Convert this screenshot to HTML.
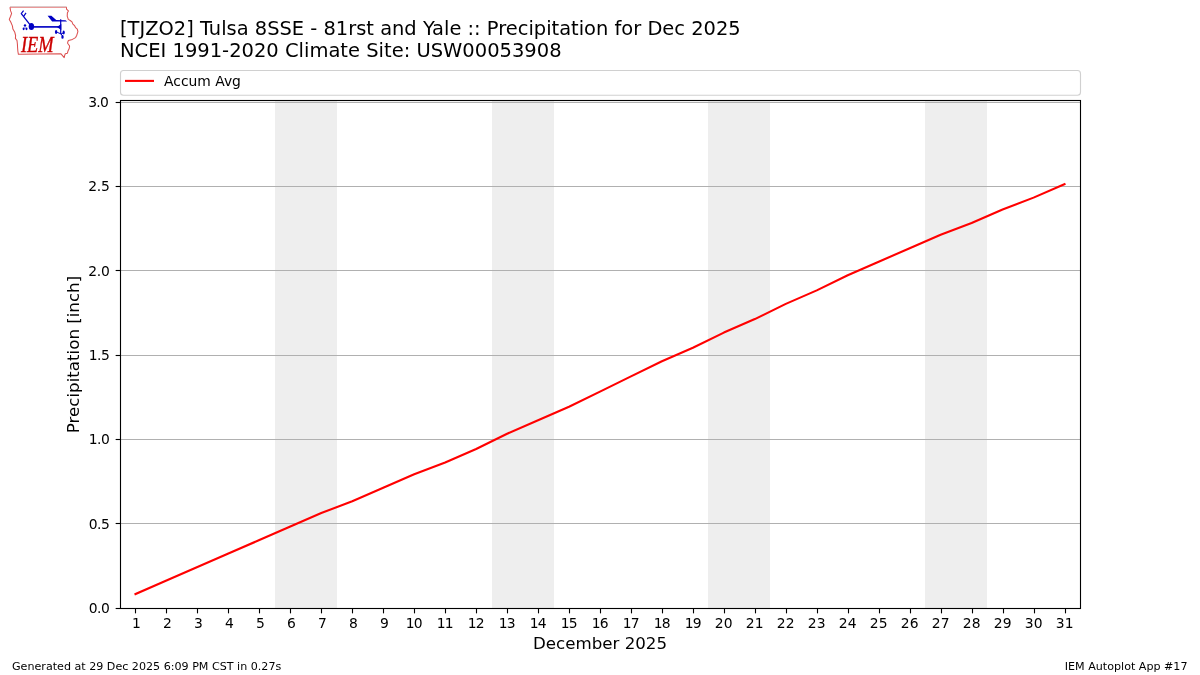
<!DOCTYPE html>
<html lang="en"><head><meta charset="utf-8"><title>IEM Autoplot App #17</title>
<style>html,body{margin:0;padding:0;background:#fff;}body{width:1200px;height:675px;overflow:hidden;}svg{display:block;will-change:transform;}text{font-family:"DejaVu Sans", "Liberation Sans", sans-serif;fill:#000;}.tk{font-size:13.89px;}.yl{letter-spacing:-0.7px;}.dd{letter-spacing:-0.9px;}.ttl{font-size:19.46px;}.lab{font-size:16.67px;}.ft{font-size:11.11px;}</style></head><body>
<svg width="1200" height="675" viewBox="0 0 1200 675">
<rect x="0" y="0" width="1200" height="675" fill="#ffffff"/>
<rect x="275.00" y="100.50" width="62.00" height="508.00" fill="#eeeeee"/>
<rect x="492.00" y="100.50" width="62.00" height="508.00" fill="#eeeeee"/>
<rect x="708.00" y="100.50" width="62.00" height="508.00" fill="#eeeeee"/>
<rect x="925.00" y="100.50" width="62.00" height="508.00" fill="#eeeeee"/>
<line x1="120.50" x2="1080.50" y1="523.50" y2="523.50" stroke="#b0b0b0" stroke-width="1.11"/>
<line x1="120.50" x2="1080.50" y1="439.50" y2="439.50" stroke="#b0b0b0" stroke-width="1.11"/>
<line x1="120.50" x2="1080.50" y1="355.50" y2="355.50" stroke="#b0b0b0" stroke-width="1.11"/>
<line x1="120.50" x2="1080.50" y1="270.50" y2="270.50" stroke="#b0b0b0" stroke-width="1.11"/>
<line x1="120.50" x2="1080.50" y1="186.50" y2="186.50" stroke="#b0b0b0" stroke-width="1.11"/>
<line x1="120.50" x2="1080.50" y1="102.50" y2="102.50" stroke="#b0b0b0" stroke-width="1.11"/>
<polyline points="135.48,594.01 166.45,580.51 197.42,567.02 228.39,553.53 259.35,540.03 290.32,526.54 321.29,513.04 352.26,501.24 383.23,487.74 414.19,474.25 445.16,462.44 476.13,448.95 507.10,433.77 538.06,420.28 569.03,406.78 600.00,391.60 630.97,376.42 661.94,361.24 692.90,347.75 723.87,332.57 754.84,319.07 785.81,303.89 816.77,290.40 847.74,275.22 878.71,261.73 909.68,248.23 940.65,234.74 971.61,222.93 1002.58,209.44 1033.55,197.63 1064.52,184.14" fill="none" stroke="#ff0000" stroke-width="2.08" stroke-linejoin="round" stroke-linecap="square"/>
<rect x="120.50" y="100.50" width="960.00" height="508.00" fill="none" stroke="#000" stroke-width="1.11"/>
<line x1="115.64" x2="120.50" y1="608.50" y2="608.50" stroke="#000" stroke-width="1.11"/>
<text class="tk" style="letter-spacing:-0.55px" x="109.25" y="612.85" text-anchor="end">0.0</text>
<line x1="115.64" x2="120.50" y1="523.50" y2="523.50" stroke="#000" stroke-width="1.11"/>
<text class="tk" style="letter-spacing:-0.55px" x="109.25" y="528.75" text-anchor="end">0.5</text>
<line x1="115.64" x2="120.50" y1="439.50" y2="439.50" stroke="#000" stroke-width="1.11"/>
<text class="tk" style="letter-spacing:-0.50px" x="109.30" y="443.85" text-anchor="end">1.0</text>
<line x1="115.64" x2="120.50" y1="355.50" y2="355.50" stroke="#000" stroke-width="1.11"/>
<text class="tk" style="letter-spacing:-0.50px" x="109.30" y="359.85" text-anchor="end">1.5</text>
<line x1="115.64" x2="120.50" y1="270.50" y2="270.50" stroke="#000" stroke-width="1.11"/>
<text class="tk" style="letter-spacing:-0.20px" x="109.70" y="275.75" text-anchor="end">2.0</text>
<line x1="115.64" x2="120.50" y1="186.50" y2="186.50" stroke="#000" stroke-width="1.11"/>
<text class="tk" style="letter-spacing:-0.20px" x="109.60" y="190.85" text-anchor="end">2.5</text>
<line x1="115.64" x2="120.50" y1="102.50" y2="102.50" stroke="#000" stroke-width="1.11"/>
<text class="tk" style="letter-spacing:-0.70px" x="108.20" y="106.85" text-anchor="end">3.0</text>
<line x1="135.50" x2="135.50" y1="608.50" y2="613.36" stroke="#000" stroke-width="1.11"/>
<text class="tk" x="136.30" y="627.60" text-anchor="middle">1</text>
<line x1="166.50" x2="166.50" y1="608.50" y2="613.36" stroke="#000" stroke-width="1.11"/>
<text class="tk" x="167.30" y="627.60" text-anchor="middle">2</text>
<line x1="197.50" x2="197.50" y1="608.50" y2="613.36" stroke="#000" stroke-width="1.11"/>
<text class="tk" x="198.30" y="627.60" text-anchor="middle">3</text>
<line x1="228.50" x2="228.50" y1="608.50" y2="613.36" stroke="#000" stroke-width="1.11"/>
<text class="tk" x="229.30" y="627.60" text-anchor="middle">4</text>
<line x1="259.50" x2="259.50" y1="608.50" y2="613.36" stroke="#000" stroke-width="1.11"/>
<text class="tk" x="260.30" y="627.60" text-anchor="middle">5</text>
<line x1="290.50" x2="290.50" y1="608.50" y2="613.36" stroke="#000" stroke-width="1.11"/>
<text class="tk" x="291.30" y="627.60" text-anchor="middle">6</text>
<line x1="321.50" x2="321.50" y1="608.50" y2="613.36" stroke="#000" stroke-width="1.11"/>
<text class="tk" x="322.30" y="627.60" text-anchor="middle">7</text>
<line x1="352.50" x2="352.50" y1="608.50" y2="613.36" stroke="#000" stroke-width="1.11"/>
<text class="tk" x="353.30" y="627.60" text-anchor="middle">8</text>
<line x1="383.50" x2="383.50" y1="608.50" y2="613.36" stroke="#000" stroke-width="1.11"/>
<text class="tk" x="384.30" y="627.60" text-anchor="middle">9</text>
<line x1="414.50" x2="414.50" y1="608.50" y2="613.36" stroke="#000" stroke-width="1.11"/>
<text class="tk dd" x="413.70" y="627.60" text-anchor="middle">10</text>
<line x1="445.50" x2="445.50" y1="608.50" y2="613.36" stroke="#000" stroke-width="1.11"/>
<text class="tk dd" x="444.70" y="627.60" text-anchor="middle">11</text>
<line x1="476.50" x2="476.50" y1="608.50" y2="613.36" stroke="#000" stroke-width="1.11"/>
<text class="tk dd" x="475.70" y="627.60" text-anchor="middle">12</text>
<line x1="507.50" x2="507.50" y1="608.50" y2="613.36" stroke="#000" stroke-width="1.11"/>
<text class="tk dd" x="506.70" y="627.60" text-anchor="middle">13</text>
<line x1="538.50" x2="538.50" y1="608.50" y2="613.36" stroke="#000" stroke-width="1.11"/>
<text class="tk dd" x="537.70" y="627.60" text-anchor="middle">14</text>
<line x1="569.50" x2="569.50" y1="608.50" y2="613.36" stroke="#000" stroke-width="1.11"/>
<text class="tk dd" x="568.70" y="627.60" text-anchor="middle">15</text>
<line x1="600.50" x2="600.50" y1="608.50" y2="613.36" stroke="#000" stroke-width="1.11"/>
<text class="tk dd" x="599.70" y="627.60" text-anchor="middle">16</text>
<line x1="631.50" x2="631.50" y1="608.50" y2="613.36" stroke="#000" stroke-width="1.11"/>
<text class="tk dd" x="630.70" y="627.60" text-anchor="middle">17</text>
<line x1="662.50" x2="662.50" y1="608.50" y2="613.36" stroke="#000" stroke-width="1.11"/>
<text class="tk dd" x="661.70" y="627.60" text-anchor="middle">18</text>
<line x1="693.50" x2="693.50" y1="608.50" y2="613.36" stroke="#000" stroke-width="1.11"/>
<text class="tk dd" x="692.70" y="627.60" text-anchor="middle">19</text>
<line x1="724.50" x2="724.50" y1="608.50" y2="613.36" stroke="#000" stroke-width="1.11"/>
<text class="tk" x="723.70" y="627.60" text-anchor="middle">20</text>
<line x1="755.50" x2="755.50" y1="608.50" y2="613.36" stroke="#000" stroke-width="1.11"/>
<text class="tk" x="754.70" y="627.60" text-anchor="middle">21</text>
<line x1="786.50" x2="786.50" y1="608.50" y2="613.36" stroke="#000" stroke-width="1.11"/>
<text class="tk" x="785.70" y="627.60" text-anchor="middle">22</text>
<line x1="817.50" x2="817.50" y1="608.50" y2="613.36" stroke="#000" stroke-width="1.11"/>
<text class="tk" x="816.70" y="627.60" text-anchor="middle">23</text>
<line x1="848.50" x2="848.50" y1="608.50" y2="613.36" stroke="#000" stroke-width="1.11"/>
<text class="tk" x="847.70" y="627.60" text-anchor="middle">24</text>
<line x1="879.50" x2="879.50" y1="608.50" y2="613.36" stroke="#000" stroke-width="1.11"/>
<text class="tk" x="878.70" y="627.60" text-anchor="middle">25</text>
<line x1="910.50" x2="910.50" y1="608.50" y2="613.36" stroke="#000" stroke-width="1.11"/>
<text class="tk" x="909.70" y="627.60" text-anchor="middle">26</text>
<line x1="941.50" x2="941.50" y1="608.50" y2="613.36" stroke="#000" stroke-width="1.11"/>
<text class="tk" x="940.70" y="627.60" text-anchor="middle">27</text>
<line x1="972.50" x2="972.50" y1="608.50" y2="613.36" stroke="#000" stroke-width="1.11"/>
<text class="tk" x="971.70" y="627.60" text-anchor="middle">28</text>
<line x1="1003.50" x2="1003.50" y1="608.50" y2="613.36" stroke="#000" stroke-width="1.11"/>
<text class="tk" x="1002.70" y="627.60" text-anchor="middle">29</text>
<line x1="1034.50" x2="1034.50" y1="608.50" y2="613.36" stroke="#000" stroke-width="1.11"/>
<text class="tk" x="1033.70" y="627.60" text-anchor="middle">30</text>
<line x1="1065.50" x2="1065.50" y1="608.50" y2="613.36" stroke="#000" stroke-width="1.11"/>
<text class="tk" x="1064.70" y="627.60" text-anchor="middle">31</text>
<text class="lab" x="600" y="649" text-anchor="middle">December 2025</text>
<text class="lab" transform="translate(79,354.5) rotate(-90)" text-anchor="middle">Precipitation [inch]</text>
<text class="ttl" x="120" y="35.3">[TJZO2] Tulsa 8SSE - 81rst and Yale :: Precipitation for Dec 2025</text>
<text class="ttl" style="font-size:19.5px" x="120" y="57.3">NCEI 1991-2020 Climate Site: USW00053908</text>
<rect x="120.5" y="70.5" width="960" height="24.7" rx="3" ry="3" fill="#ffffff" stroke="#cccccc" stroke-width="1.11" opacity="0.9"/>
<line x1="125" x2="154" y1="80.9" y2="80.9" stroke="#ff0000" stroke-width="2.08"/>
<text class="tk" x="164" y="85.8">Accum Avg</text>
<text class="ft" x="12" y="670">Generated at 29 Dec 2025 6:09 PM CST in 0.27s</text>
<text class="ft" x="1187.5" y="670" text-anchor="end">IEM Autoplot App #17</text>
<defs><filter id="lb" x="-5%" y="-5%" width="110%" height="110%"><feGaussianBlur stdDeviation="0.32"/></filter></defs>
<g id="logo" filter="url(#lb)">
<line x1="10" y1="6.5" x2="66.6" y2="6.5" stroke="#dcd0d0" stroke-width="1"/>
<line x1="9.8" y1="7.4" x2="66.8" y2="7.4" stroke="#e88c8c" stroke-width="1"/>
<path d="M66.5,7.3 L66.5,9.1 L68.4,10.9 L67.4,12.7 L67.2,16.2 L68.3,19.4 L70.2,20.5 L72,21.9 L72.7,23.8 L74.5,25.6 L75.6,27.7 L77.3,29.1 L77.9,31.6 L76.8,35.2 L75.6,37.6 L72.4,39.4 L68.4,40.5 L67.7,42.3 L67.6,43.2 L69.6,46 L69.2,48.5 L68.1,50.7 L67.4,53.2 L65.3,53.7 L64.6,55.6 L64.2,57.6 L61,53.8 L18.4,54.3 L17.9,51.5 L17.6,48 L17.4,44 L17,40.5 L15.4,38.4 L15.6,35.5 L14.8,32.3 L12.9,29.1 L12.4,25.9 L10.75,22 L9.3,19.4 L10.6,16.2 L11.6,13.4 L10.6,10.9 L10,7.3" fill="none" stroke="#dc5050" stroke-width="1.05" stroke-linejoin="round"/>
<g stroke="#0000c4" fill="#0000c4" stroke-linecap="butt">
<line x1="31.5" y1="26.6" x2="21.3" y2="13.6" stroke-width="1.3"/>
<line x1="21.0" y1="13.9" x2="23.6" y2="10.6" stroke-width="1.2"/>
<line x1="23.6" y1="16.3" x2="26" y2="12.9" stroke-width="1.2"/>
<ellipse cx="31.4" cy="26.6" rx="2.7" ry="3.5" stroke="none"/>
<line x1="31.4" y1="26.9" x2="60.5" y2="26.9" stroke-width="1.65"/>
<path d="M56.9,26.9 L61.3,23.9 L61.3,29.9 Z" stroke="none"/>
<line x1="60.7" y1="19.2" x2="60.7" y2="34.2" stroke-width="1.2"/>
<path d="M47.6,15.8 L51.4,15.8 L56.2,19.9 L65.5,20.3 L66.9,21.3 L66.9,21.6 L52.1,21.6 Z" stroke="none"/>
<path d="M25,25.4 L23.6,28.75 L26.5,28.75 Z" stroke="none" opacity="0.25"/>
<circle cx="25" cy="25.4" r="1.2" stroke="none"/>
<ellipse cx="23.6" cy="28.85" rx="1.0" ry="1.3" stroke="none"/>
<ellipse cx="26.5" cy="28.85" rx="1.0" ry="1.3" stroke="none"/>
<ellipse cx="56.1" cy="32" rx="1.2" ry="1.9" stroke="none"/>
<ellipse cx="63.7" cy="32.4" rx="1.1" ry="2" stroke="none"/>
<ellipse cx="62.5" cy="36.9" rx="1.2" ry="1.9" stroke="none"/>
<line x1="57.1" y1="32.3" x2="61.1" y2="33.9" stroke-width="1"/>
<line x1="61.1" y1="33.9" x2="63.3" y2="33" stroke-width="1"/>
<line x1="61.2" y1="34" x2="62.4" y2="36" stroke-width="1"/>
</g>
<text transform="translate(20.9,51.5) scale(0.815,1)" style="font-family:'Liberation Serif',serif;font-style:italic;font-size:22.6px;fill:#cc0000;stroke:#cc0000;stroke-width:0.35px;">IEM</text>
</g>

</svg></body></html>
